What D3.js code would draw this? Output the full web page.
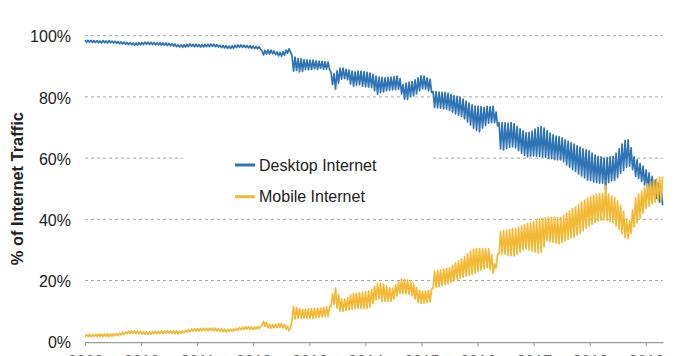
<!DOCTYPE html>
<html><head><meta charset="utf-8">
<script src="https://cdn.jsdelivr.net/npm/d3@7"></script>
<style>html,body{margin:0;padding:0;background:#fff;overflow:hidden}</style>
</head><body>
<svg id="chart" width="683" height="356"></svg>
<script>
// ---- data ----
const yearLabels = ["2009","2010","2011","2012","2013","2014","2015","2016","2017","2018","2019"];
const yTickValues = [0, 20, 40, 60, 80, 100];
const seriesNames = ["Desktop Internet", "Mobile Internet"];
const seriesColors = ["#2E74B5", "#F3B934"];
const startDate = "2009-01-01";
const stepDays = 9.77;            // spacing between samples (weekday / weekend alternating)
const desktop = [
98.6,97.9,98.5,97.9,98.5,97.8,98.4,97.8,98.4,97.7,98.3,97.6,98.4,97.7,98.3,97.6,98.4,97.7,98.2,97.6,
98.2,97.5,98.1,97.4,98.0,97.3,97.9,97.2,97.8,97.1,97.7,97.0,97.6,96.9,97.6,96.9,97.7,97.0,97.8,97.1,
97.9,97.2,97.9,97.1,97.8,97.1,97.8,97.0,97.7,97.0,97.7,96.9,97.6,96.9,97.6,96.8,97.5,96.7,97.4,96.6,
97.2,96.4,97.0,96.3,97.0,96.2,97.1,96.3,97.2,96.4,97.3,96.5,97.2,96.4,97.2,96.4,97.1,96.3,97.1,96.3,
97.2,96.4,97.2,96.4,97.3,96.5,97.2,96.4,97.1,96.3,96.9,96.1,96.8,96.0,96.7,95.9,96.6,95.8,96.7,95.9,
96.9,96.1,97.0,96.2,97.0,96.2,96.9,96.1,96.8,96.0,96.7,95.9,96.6,95.8,96.5,95.7,96.4,95.6,
95.0,93.7,95.2,94.0,95.4,94.0,95.3,94.1,95.0,93.8,94.7,93.4,94.6,93.3,94.8,93.6,95.3,94.3,95.7,94.7,
93.4,88.4,93.0,88.6,92.5,88.2,92.4,88.3,92.2,89.0,92.1,88.8,92.0,89.0,92.0,89.2,91.8,89.0,91.7,89.3,91.6,89.0,91.5,89.1,91.4,89.0,
88.0,84.0,87.6,82.5,88.5,84.5,89.4,85.8,89.4,86.0,89.0,85.6,88.8,84.2,88.4,83.5,88.2,83.8,88.4,84.0,88.4,83.5,88.2,83.3,88.0,83.2,87.8,83.0,87.4,82.0,86.8,80.9,86.5,81.4,
86.4,81.6,86.2,82.0,86.4,82.2,86.5,82.3,86.6,82.4,86.8,82.5,86.0,81.0,84.0,79.3,84.5,79.2,84.8,80.2,85.0,80.3,85.6,81.0,86.2,82.0,86.9,82.6,86.8,82.5,86.2,82.0,85.8,81.5,
81.8,76.6,81.7,76.4,81.6,76.3,81.5,76.1,81.5,76.0,81.2,75.6,80.8,75.0,80.4,74.4,80.2,74.0,79.9,73.6,79.3,72.8,78.6,71.8,78.0,70.8,77.4,69.8,77.0,69.0,76.9,68.6,76.8,69.8,76.6,70.6,76.9,71.4,76.8,71.6,76.9,71.6,75.0,70.5,
71.6,63.0,71.6,62.7,71.5,63.2,71.4,63.5,71.6,63.7,71.2,63.4,70.4,62.4,69.6,61.6,68.9,60.9,68.3,60.4,68.4,60.6,68.8,60.7,69.5,60.6,70.0,60.5,70.3,60.4,69.8,60.2,69.0,60.0,68.2,59.8,67.6,59.6,67.2,59.4,67.0,59.4,
66.6,58.8,66.0,57.8,65.5,57.0,65.0,56.2,64.6,55.6,64.0,54.8,63.6,54.2,63.0,53.5,62.7,52.8,62.4,52.6,61.6,52.2,61.0,52.0,60.6,51.8,60.4,51.8,60.0,49.6,60.2,52.0,60.4,52.6,60.6,52.8,61.6,53.6,63.0,55.0,64.6,56.0,
65.8,57.0,66.0,57.4,63.4,56.2,60.4,54.0,59.4,53.4,58.2,52.4,57.4,51.2,56.1,49.8,55.2,49.0,54.0,48.2,52.8,46.8,51.8,45.6,50.8,44.6
];
const mobile = [
1.6,2.4,1.6,2.4,1.6,2.3,1.7,2.4,1.7,2.5,1.7,2.5,1.7,2.5,1.8,2.6,1.7,2.5,1.8,2.6,
1.9,2.7,2.0,2.8,2.2,3.0,2.4,3.2,2.6,3.4,2.7,3.5,2.8,3.6,2.7,3.5,2.6,3.4,2.5,3.3,
2.4,3.2,2.4,3.2,2.5,3.3,2.6,3.4,2.6,3.4,2.7,3.5,2.7,3.5,2.8,3.6,2.8,3.6,2.7,3.5,
2.7,3.5,2.6,3.4,2.7,3.5,2.9,3.7,3.1,3.9,3.3,4.1,3.4,4.2,3.5,4.3,3.5,4.3,3.6,4.4,
3.6,4.4,3.6,4.4,3.7,4.5,3.6,4.4,3.5,4.3,3.4,4.2,3.3,4.1,3.2,4.0,3.3,4.1,3.4,4.2,
3.6,4.4,3.8,4.6,3.9,4.7,4.0,4.8,4.1,4.9,4.0,4.8,4.0,4.8,4.1,4.9,4.3,5.1,
5.3,6.7,5.0,6.3,4.5,5.7,4.4,5.6,4.5,5.7,4.6,5.9,4.7,6.0,4.5,5.6,4.0,5.0,3.6,4.6,
7.3,11.5,7.4,11.2,7.6,10.8,7.6,10.6,7.7,10.6,7.6,10.7,7.6,10.8,7.6,10.9,7.8,10.9,7.9,11.0,8.1,11.2,8.2,11.3,8.3,11.5,
11.6,15.6,12.2,17.5,11.0,15.4,9.9,13.9,9.9,13.9,10.2,14.4,10.4,15.2,10.6,15.8,10.7,15.9,10.8,16.0,10.9,16.2,10.9,16.4,10.9,16.5,11.4,17.0,12.4,18.0,13.6,19.0,13.9,19.1,
13.2,18.8,13.2,18.2,13.2,17.6,13.2,17.5,14.0,18.6,15.0,19.6,15.8,20.5,15.8,20.4,15.7,20.2,15.5,19.8,15.0,19.0,14.0,17.8,12.8,16.8,12.5,16.5,12.6,16.6,12.8,16.8,13.0,17.2,
17.5,23.1,17.7,23.3,18.0,23.5,18.3,23.8,18.6,24.0,18.9,24.2,19.4,25.0,19.9,25.8,20.4,26.4,20.8,27.0,21.1,27.8,21.4,28.7,21.7,29.6,22.0,30.2,22.4,30.4,22.9,30.4,23.4,30.4,23.8,30.4,24.1,30.4,23.6,28.4,22.4,25.4,24.0,28.6,
28.6,36.0,28.7,36.3,28.5,36.5,28.3,36.7,28.1,36.9,28.0,37.0,28.6,37.4,29.3,37.8,29.9,38.2,30.4,38.6,30.0,39.0,29.6,39.4,29.3,39.8,29.0,40.1,29.2,40.3,31.0,40.5,33.0,40.6,32.7,40.6,32.4,40.6,32.2,40.6,32.0,40.6,
32.4,41.2,32.9,42.0,33.4,42.8,33.8,43.5,34.1,44.0,34.8,44.8,35.5,45.6,36.2,46.3,37.0,47.0,37.7,47.4,38.3,47.8,38.9,48.2,39.4,48.4,39.6,48.5,39.8,51.0,39.6,48.2,39.2,47.6,38.9,47.2,37.8,46.0,36.6,44.6,35.2,42.6,
34.0,40.0,33.7,39.6,35.4,43.0,37.5,47.0,38.8,48.2,40.4,49.2,42.0,50.4,43.6,51.6,44.4,52.2,45.0,52.8,45.6,53.2,46.1,53.7,46.4,54.0
];

// ---- chart ----
const svg = d3.select("#chart");
const FONT = "'Liberation Sans', Arial, Helvetica, sans-serif";
const plotLeft = 85, plotRight = 663, plotTop = 35.7, plotBottom = 341.7;

const t0 = d3.timeParse("%Y-%m-%d")(startDate);
const dateAt = i => d3.timeHour.offset(t0, Math.round(i * stepDays * 24));
const x = d3.scaleTime()
  .domain([t0, d3.timeParse("%Y-%m-%d")("2019-04-23")])
  .range([plotLeft, plotRight]);
const y = d3.scaleLinear().domain([0, 100]).range([plotBottom, plotTop]);

// gridlines
svg.append("g").selectAll("line")
  .data(yTickValues.filter(v => v > 0))
  .join("line")
  .attr("x1", plotLeft).attr("x2", plotRight)
  .attr("y1", d => y(d)).attr("y2", d => y(d))
  .attr("stroke", "#a3a3a3").attr("stroke-width", 1)
  .attr("stroke-dasharray", "3,3");

// y tick labels
svg.append("g").selectAll("text")
  .data(yTickValues)
  .join("text")
  .attr("x", 71).attr("y", d => y(d))
  .attr("dy", "0.42em")
  .attr("text-anchor", "end")
  .attr("font-family", FONT).attr("font-size", 16)
  .attr("fill", "#222")
  .text(d => d + "%");

// y axis title
svg.append("text")
  .attr("transform", `translate(23,${(plotTop + plotBottom) / 2}) rotate(-90)`)
  .attr("text-anchor", "middle")
  .attr("font-family", FONT).attr("font-size", 16.4).attr("font-weight", "bold")
  .attr("fill", "#222")
  .text("% of Internet Traffic");

// x axis (labels sit at the bottom edge, as in the reference)
const yearDates = yearLabels.map(s => d3.timeParse("%Y")(s));
const xAxis = d3.axisBottom(x)
  .tickValues(yearDates)
  .tickSize(4).tickSizeOuter(0).tickPadding(9)
  .tickFormat((d, i) => yearLabels[i]);
const gx = svg.append("g").attr("transform", `translate(0,${plotBottom + 0.5})`).call(xAxis);
gx.select(".domain").attr("stroke", "#9a9a9a").attr("stroke-width", 1.2);
gx.selectAll(".tick line").attr("stroke", "#9a9a9a");
gx.selectAll(".tick text").attr("font-family", FONT).attr("font-size", 16).attr("fill", "#666");

// lines
const line = d3.line()
  .x((d, i) => x(dateAt(i)))
  .y(d => y(d));
[desktop, mobile].forEach((s, k) => {
  svg.append("path")
    .datum(s)
    .attr("d", line)
    .attr("fill", "none")
    .attr("stroke", seriesColors[k])
    .attr("stroke-width", 1.7)
    .attr("stroke-linejoin", "round");
});

// legend
const lg = svg.append("g");
lg.append("rect").attr("x", 183).attr("y", 140).attr("width", 248).attr("height", 72).attr("fill", "#fff");
const legendY = [165, 196.7];
seriesNames.forEach((name, k) => {
  lg.append("line")
    .attr("x1", 235).attr("x2", 255)
    .attr("y1", legendY[k]).attr("y2", legendY[k])
    .attr("stroke", seriesColors[k]).attr("stroke-width", 3);
  lg.append("text")
    .attr("x", 259).attr("y", legendY[k] + 5.6)
    .attr("font-family", FONT).attr("font-size", 16)
    .attr("fill", "#222")
    .text(name);
});
</script>
</body></html>
